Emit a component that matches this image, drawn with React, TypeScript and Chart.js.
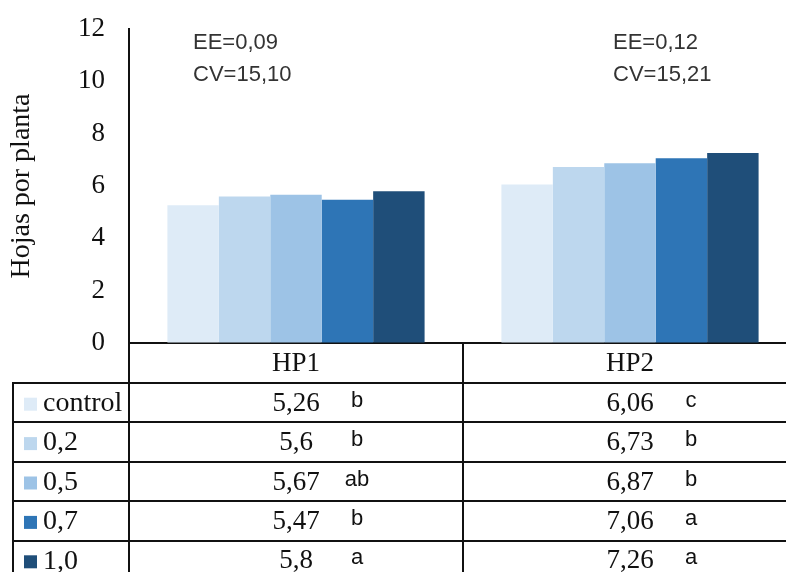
import React, { useEffect, useRef } from 'react';
import { Chart, registerables } from 'chart.js';
Chart.register(...registerables);

const categories = ['HP1', 'HP2'];
const seriesNames = ['control', '0,2', '0,5', '0,7', '1,0'];
const controlValues = [5.26, 6.06];
const dose02Values = [5.6, 6.73];
const dose05Values = [5.67, 6.87];
const dose07Values = [5.47, 7.06];
const dose10Values = [5.8, 7.26];
const controlLetters = ['b', 'c'];
const dose02Letters = ['b', 'b'];
const dose05Letters = ['ab', 'b'];
const dose07Letters = ['b', 'a'];
const dose10Letters = ['a', 'a'];
const eeLabels = ['EE=0,09', 'EE=0,12'];
const cvLabels = ['CV=15,10', 'CV=15,21'];
const yTickValues = [0, 2, 4, 6, 8, 10, 12];
const yAxisTitle = 'Hojas por planta';

const seriesValues = [controlValues, dose02Values, dose05Values, dose07Values, dose10Values];
const seriesLetters = [controlLetters, dose02Letters, dose05Letters, dose07Letters, dose10Letters];
const colors = ['#DEEBF7', '#BDD7EE', '#9DC3E6', '#2E75B6', '#1F4E79'];

const SERIF = '"Liberation Serif", "Times New Roman", serif';
const SANS = '"Liberation Sans", Arial, sans-serif';
const fmt = (v: number) => String(v).replace('.', ',');

const tablePlugin = {
  id: 'dataTable',
  afterDraw(chart: any) {
    const ctx = chart.ctx as CanvasRenderingContext2D;
    const area = chart.chartArea;
    const xs = chart.scales.x;
    const nCat = categories.length;
    const catW = (area.right - area.left) / nCat;
    const headTop = area.bottom;
    const headBottom = headTop + 40;
    const rowH = 39.4;
    const nRows = seriesNames.length;
    const tableBottom = headBottom + rowH * nRows;
    const legendLeft = 13;

    ctx.save();
    ctx.strokeStyle = '#111';
    ctx.lineWidth = 2;
    const line = (x1: number, y1: number, x2: number, y2: number) => {
      ctx.beginPath();
      ctx.moveTo(x1, y1);
      ctx.lineTo(x2, y2);
      ctx.stroke();
    };
    for (let r = 0; r <= nRows; r++) {
      const y = Math.round(headBottom + r * rowH);
      line(legendLeft, y, area.right, y);
    }
    line(legendLeft, headBottom - 1, legendLeft, tableBottom);
    line(area.left, headTop, area.left, tableBottom);
    for (let i = 1; i <= nCat; i++) {
      const x = Math.round(area.left + i * catW);
      line(x, headTop, x, tableBottom);
    }

    // header
    ctx.fillStyle = '#111';
    ctx.textBaseline = 'middle';
    ctx.textAlign = 'center';
    ctx.font = `27px ${SERIF}`;
    categories.forEach((c, i) => {
      ctx.fillText(c, xs.getPixelForValue(i), (headTop + headBottom) / 2 + 1);
    });

    // rows
    seriesNames.forEach((name, r) => {
      const yc = headBottom + r * rowH + rowH / 2;
      ctx.fillStyle = colors[r];
      ctx.fillRect(24, yc - 5, 13, 13);
      ctx.fillStyle = '#111';
      ctx.textAlign = 'left';
      ctx.font = `28px ${SERIF}`;
      ctx.fillText(name, 43, yc + 1);
      categories.forEach((_, i) => {
        const cx = xs.getPixelForValue(i);
        ctx.textAlign = 'center';
        ctx.font = `27px ${SERIF}`;
        ctx.fillText(fmt(seriesValues[r][i]), cx, yc + 1);
        ctx.font = `22px ${SANS}`;
        ctx.fillText(seriesLetters[r][i], cx + 61, yc - 2);
      });
    });

    // EE / CV annotations
    ctx.fillStyle = '#333';
    ctx.textAlign = 'left';
    ctx.font = `22px ${SANS}`;
    const annX = [area.left + 64, area.left + catW + 150];
    categories.forEach((_, i) => {
      ctx.fillText(eeLabels[i], annX[i], area.top + 14);
      ctx.fillText(cvLabels[i], annX[i], area.top + 46);
    });
    ctx.restore();
  },
};

export default function App() {
  const ref = useRef<HTMLCanvasElement | null>(null);
  useEffect(() => {
    if (!ref.current) return;
    const chart = new Chart(ref.current, {
      type: 'bar',
      data: {
        labels: categories,
        datasets: seriesNames.map((n, i) => ({
          label: n,
          data: seriesValues[i],
          backgroundColor: colors[i],
          borderWidth: 0,
          categoryPercentage: 0.77,
          barPercentage: 1,
        })),
      },
      options: {
        responsive: false,
        animation: false,
        devicePixelRatio: 1,
        layout: { padding: { top: 29, right: 3, left: 0, bottom: 0 } },
        plugins: { legend: { display: false }, tooltip: { enabled: false } },
        scales: {
          x: {
            grid: { display: false, drawTicks: false },
            ticks: { display: false },
            border: { display: true, color: '#111', width: 2 },
            afterFit: (s: any) => { s.height = 229; },
          },
          y: {
            min: 0,
            max: 12,
            afterBuildTicks: (s: any) => { s.ticks = yTickValues.map((v) => ({ value: v })); },
            ticks: {
              padding: 0,
              color: '#111',
              font: { family: SERIF, size: 27 },
            },
            grid: { display: true, drawOnChartArea: false, drawTicks: true, tickLength: 24, color: 'rgba(0,0,0,0)' },
            border: { display: true, color: '#111', width: 2 },
            title: {
              display: true,
              text: yAxisTitle,
              color: '#111',
              font: { family: SERIF, size: 28 },
              padding: { top: 5, bottom: 0 },
            },
            afterFit: (s: any) => { s.width = 129; },
          },
        },
      },
      plugins: [tablePlugin],
    } as any);
    return () => chart.destroy();
  }, []);
  return (
    <div style={{ position: 'fixed', left: 0, top: 0, width: 786, height: 572, overflow: 'hidden', background: '#fff' }}>
      <canvas ref={ref} width={800} height={572} style={{ display: 'block' }} />
    </div>
  );
}
